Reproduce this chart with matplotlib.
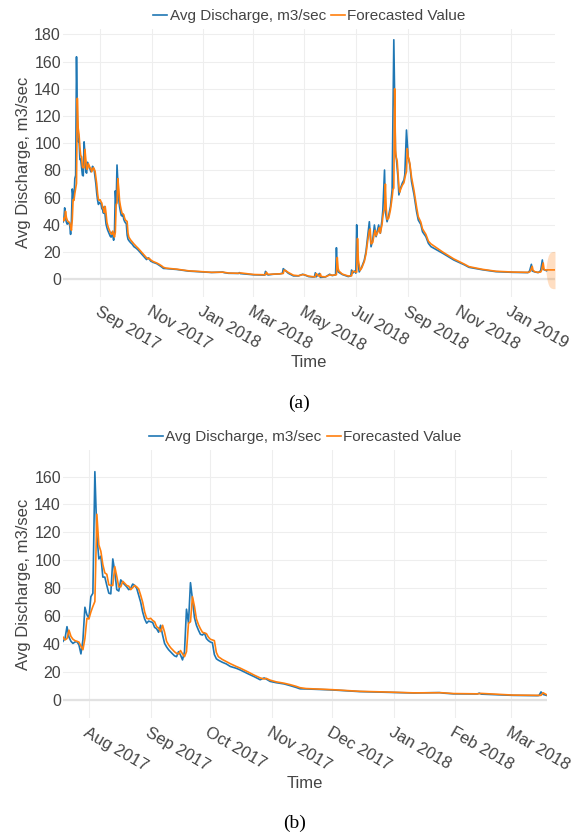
import pandas as pd
import matplotlib
matplotlib.use("Agg")
import matplotlib.pyplot as plt
import matplotlib.dates as mdates

plt.rcParams['font.family'] = ['Liberation Sans', 'DejaVu Sans']

obs_dates = [
    "2017-07-19", "2017-07-20", "2017-07-21", "2017-07-22", "2017-07-23", "2017-07-24", "2017-07-25",
    "2017-07-26", "2017-07-27", "2017-07-28", "2017-07-29", "2017-07-30", "2017-07-31", "2017-08-01",
    "2017-08-02", "2017-08-03", "2017-08-04", "2017-08-05", "2017-08-06", "2017-08-07", "2017-08-08",
    "2017-08-09", "2017-08-10", "2017-08-11", "2017-08-12", "2017-08-13", "2017-08-14", "2017-08-15",
    "2017-08-16", "2017-08-17", "2017-08-18", "2017-08-19", "2017-08-20", "2017-08-21", "2017-08-22",
    "2017-08-23", "2017-08-24", "2017-08-25", "2017-08-26", "2017-08-27", "2017-08-28", "2017-08-29",
    "2017-08-30", "2017-08-31", "2017-09-01", "2017-09-02", "2017-09-03", "2017-09-04", "2017-09-05",
    "2017-09-06", "2017-09-07", "2017-09-08", "2017-09-09", "2017-09-10", "2017-09-11", "2017-09-12",
    "2017-09-13", "2017-09-14", "2017-09-15", "2017-09-16", "2017-09-17", "2017-09-18", "2017-09-19",
    "2017-09-20", "2017-09-21", "2017-09-22", "2017-09-23", "2017-09-24", "2017-09-25", "2017-09-26",
    "2017-09-27", "2017-09-28", "2017-09-29", "2017-09-30", "2017-10-01", "2017-10-02", "2017-10-03",
    "2017-10-04", "2017-10-05", "2017-10-07", "2017-10-09", "2017-10-11", "2017-10-14", "2017-10-16",
    "2017-10-20", "2017-10-23", "2017-10-26", "2017-10-28", "2017-10-29", "2017-10-31", "2017-11-03",
    "2017-11-07", "2017-11-10", "2017-11-13", "2017-11-15", "2017-11-18", "2017-12-01", "2017-12-15",
    "2017-12-26", "2018-01-11", "2018-01-24", "2018-01-26", "2018-01-31", "2018-02-12", "2018-02-13",
    "2018-02-14", "2018-03-02", "2018-03-14", "2018-03-15", "2018-03-16", "2018-03-17", "2018-03-19",
    "2018-03-25", "2018-04-02", "2018-04-05", "2018-04-06", "2018-04-09", "2018-04-12", "2018-04-18",
    "2018-04-24", "2018-04-29", "2018-05-01", "2018-05-06", "2018-05-11", "2018-05-13", "2018-05-14",
    "2018-05-15", "2018-05-19", "2018-05-20", "2018-05-26", "2018-05-31", "2018-06-03", "2018-06-06",
    "2018-06-07", "2018-06-08", "2018-06-09", "2018-06-10", "2018-06-15", "2018-06-22", "2018-06-25",
    "2018-06-26", "2018-06-27", "2018-06-30", "2018-07-01", "2018-07-02", "2018-07-03", "2018-07-05",
    "2018-07-08", "2018-07-11", "2018-07-13", "2018-07-15", "2018-07-17", "2018-07-19", "2018-07-21",
    "2018-07-23", "2018-07-25", "2018-07-28", "2018-07-30", "2018-08-01", "2018-08-02", "2018-08-04",
    "2018-08-05", "2018-08-07", "2018-08-09", "2018-08-11", "2018-08-13", "2018-08-15", "2018-08-17",
    "2018-08-18", "2018-08-20", "2018-08-21", "2018-08-23", "2018-08-25", "2018-08-27", "2018-08-28",
    "2018-08-30", "2018-09-01", "2018-09-03", "2018-09-05", "2018-09-08", "2018-09-11", "2018-09-13",
    "2018-09-16", "2018-09-18", "2018-09-22", "2018-09-25", "2018-09-28", "2018-10-12", "2018-10-25",
    "2018-11-07", "2018-11-12", "2018-11-28", "2018-12-14", "2019-01-03", "2019-01-21", "2019-01-23",
    "2019-01-25", "2019-01-26", "2019-01-29", "2019-02-02", "2019-02-05", "2019-02-07", "2019-02-08",
    "2019-02-12",
]
obs_values = [
    42, 44, 52.5, 45, 42, 40.5, 41.5,
    41.8, 39.5, 33, 43, 66.4, 61, 58.5,
    74, 76.4, 163.5, 118, 101, 103, 88,
    88, 82, 76.5, 76, 101, 92, 79,
    78, 86, 84, 82.5, 81, 79, 80,
    83, 82, 80, 75, 70, 63, 58,
    55, 56.5, 56, 55.5, 52, 51, 48.5,
    53.5, 46.5, 40.5, 38, 36, 34.5, 33,
    31.6, 31, 34.6, 32.2, 28.7, 34.6, 65,
    55, 84, 72, 59, 53.5, 50, 47,
    46.5, 48, 44, 42.5, 41.5, 41, 32.5,
    29.5, 28.5, 27, 25.8, 24, 22.7, 21.5,
    18.7, 16.7, 14.5, 15.8, 15, 13.3, 12.4,
    11.5, 10.3, 9.0, 8.0, 7.9, 7.2, 6.0,
    5.6, 5.0, 5.3, 4.9, 4.4, 4.3, 4.9,
    4.2, 3.3, 3.1, 3.2, 5.8, 4.0, 3.2,
    3.7, 4.0, 4.4, 7.8, 6.1, 4.4, 2.5,
    2.5, 3.7, 3.2, 2.0, 1.7, 1.8, 4.8,
    1.8, 4.3, 1.4, 1.7, 3.7, 2.7, 3.2,
    3.3, 23.2, 7.5, 5.4, 3.5, 2.0, 2.5,
    6.8, 4.4, 6.2, 4.5, 40, 15.4, 5.4,
    9.1, 14, 20.3, 31.3, 42.3, 23.9, 28.8,
    39.9, 31.3, 39.9, 33.8, 43.5, 50.8, 80.3,
    49.6, 42.3, 47.2, 53.4, 65.7, 176, 91.4,
    89, 74.3, 62, 67, 70.6, 73, 76.8,
    109.7, 90.1, 84, 71.8, 62, 49.6, 43.5,
    40.3, 34.9, 31.3, 26.4, 24, 19.1, 14.2,
    10.5, 8.8, 7.0, 5.6, 5.1, 4.9, 6.3,
    11, 6.1, 5.4, 4.9, 6.3, 14.2, 7.3,
    6.3,
]

# one-step forecast
fc_dates = [
    "2017-07-19", "2017-07-20", "2017-07-21", "2017-07-22", "2017-07-23", "2017-07-24", "2017-07-25",
    "2017-07-26", "2017-07-27", "2017-07-28", "2017-07-29", "2017-07-30", "2017-07-31", "2017-08-01",
    "2017-08-02", "2017-08-03", "2017-08-04", "2017-08-05", "2017-08-06", "2017-08-07", "2017-08-08",
    "2017-08-09", "2017-08-10", "2017-08-11", "2017-08-12", "2017-08-13", "2017-08-14", "2017-08-15",
    "2017-08-16", "2017-08-17", "2017-08-18", "2017-08-19", "2017-08-20", "2017-08-21", "2017-08-22",
    "2017-08-23", "2017-08-24", "2017-08-25", "2017-08-26", "2017-08-27", "2017-08-28", "2017-08-29",
    "2017-08-30", "2017-08-31", "2017-09-01", "2017-09-02", "2017-09-03", "2017-09-04", "2017-09-05",
    "2017-09-06", "2017-09-07", "2017-09-08", "2017-09-09", "2017-09-10", "2017-09-11", "2017-09-12",
    "2017-09-13", "2017-09-14", "2017-09-15", "2017-09-16", "2017-09-17", "2017-09-18", "2017-09-19",
    "2017-09-20", "2017-09-21", "2017-09-22", "2017-09-23", "2017-09-24", "2017-09-25", "2017-09-26",
    "2017-09-27", "2017-09-28", "2017-09-29", "2017-09-30", "2017-10-01", "2017-10-02", "2017-10-03",
    "2017-10-04", "2017-10-05", "2017-10-07", "2017-10-09", "2017-10-11", "2017-10-14", "2017-10-16",
    "2017-10-20", "2017-10-23", "2017-10-26", "2017-10-28", "2017-10-29", "2017-10-31", "2017-11-03",
    "2017-11-07", "2017-11-10", "2017-11-13", "2017-11-15", "2017-11-18", "2017-12-01", "2017-12-15",
    "2017-12-26", "2018-01-11", "2018-01-25", "2018-01-31", "2018-02-12", "2018-02-14", "2018-03-02",
    "2018-03-16", "2018-03-17", "2018-03-19", "2018-03-25", "2018-04-02", "2018-04-06", "2018-04-07",
    "2018-04-09", "2018-04-12", "2018-04-18", "2018-04-24", "2018-04-29", "2018-05-01", "2018-05-06",
    "2018-05-11", "2018-05-14", "2018-05-15", "2018-05-19", "2018-05-20", "2018-05-21", "2018-05-26",
    "2018-05-31", "2018-06-03", "2018-06-07", "2018-06-08", "2018-06-09", "2018-06-10", "2018-06-11",
    "2018-06-15", "2018-06-22", "2018-06-26", "2018-06-27", "2018-06-30", "2018-07-02", "2018-07-03",
    "2018-07-04", "2018-07-06", "2018-07-08", "2018-07-11", "2018-07-13", "2018-07-15", "2018-07-17",
    "2018-07-18", "2018-07-19", "2018-07-21", "2018-07-23", "2018-07-24", "2018-07-25", "2018-07-28",
    "2018-07-29", "2018-07-30", "2018-08-01", "2018-08-02", "2018-08-03", "2018-08-04", "2018-08-05",
    "2018-08-06", "2018-08-07", "2018-08-09", "2018-08-11", "2018-08-13", "2018-08-14", "2018-08-15",
    "2018-08-16", "2018-08-17", "2018-08-18", "2018-08-19", "2018-08-20", "2018-08-21", "2018-08-22",
    "2018-08-23", "2018-08-25", "2018-08-27", "2018-08-28", "2018-08-29", "2018-08-30", "2018-08-31",
    "2018-09-01", "2018-09-02", "2018-09-03", "2018-09-05", "2018-09-08", "2018-09-11", "2018-09-13",
    "2018-09-16", "2018-09-18", "2018-09-22", "2018-09-25", "2018-09-28", "2018-10-12", "2018-10-25",
    "2018-11-07", "2018-11-12", "2018-11-28", "2018-12-14", "2019-01-03", "2019-01-21", "2019-01-23",
    "2019-01-24", "2019-01-26", "2019-01-27", "2019-01-29", "2019-02-02", "2019-02-05", "2019-02-06",
    "2019-02-08", "2019-02-09", "2019-02-10", "2019-02-12", "2019-02-13", "2019-02-22",
]
fc_values = [
    45, 43, 44, 50, 45.5, 43.5, 42.5,
    42, 41.5, 38.5, 36, 44, 58.5, 58,
    63, 67, 70.5, 133, 111, 106.5, 97,
    91, 90, 82.5, 82, 82, 95.5, 88.5,
    81, 81, 85, 83.5, 82, 81.5, 79,
    80.5, 82, 81, 79.5, 75, 70, 63,
    58.5, 58, 58.5, 57, 56, 52.5, 51.5,
    49, 53.5, 48.5, 42, 39.5, 37.5, 36,
    34.5, 33.4, 33, 35.4, 33, 31, 34.6,
    55, 56, 74, 67, 58, 54, 51,
    48.5, 48, 47.5, 45, 43.5, 43, 42.5,
    34, 31, 29, 27.5, 26, 24, 22.8,
    20, 17.8, 15.8, 15, 15.5, 14.2, 13,
    12, 11, 9.8, 8.8, 8.2, 7.4, 6.2,
    5.8, 5.1, 5.2, 4.6, 4.4, 4.7, 3.5,
    3.3, 5.2, 3.6, 3.8, 4.0, 4.3, 6.8,
    6.3, 5.0, 3.0, 2.6, 3.4, 3.4, 2.3,
    1.9, 1.9, 4.2, 2.0, 3.9, 2.0, 1.8,
    3.2, 3.0, 3.2, 3.4, 16, 8, 6,
    3.8, 2.4, 2.6, 6, 5.5, 5.2, 30,
    14, 6.5, 8.3, 13, 18.5, 28, 36,
    37, 26, 27, 34, 36, 32, 36,
    38, 34, 40, 46, 50, 51, 70,
    52, 44, 45, 51, 60, 66, 67,
    140, 95, 89, 87, 78, 68, 64,
    66, 69, 71, 74, 77, 79, 96,
    90, 88, 85, 75, 65, 53, 46,
    42, 37, 33, 28, 26, 20, 15,
    11, 9.3, 7.3, 5.9, 5.3, 5.1, 5.4,
    6.3, 9.5, 6.6, 5.6, 5.1, 5.3, 6.4,
    12, 7.5, 6.8, 6.8, 6.9, 6.9,
]

# forecast interval beyond the last observation
ci_dates = ["2019-02-11", "2019-02-12", "2019-02-13", "2019-02-14", "2019-02-15", "2019-02-16",
            "2019-02-17", "2019-02-18", "2019-02-19", "2019-02-20", "2019-02-21", "2019-02-22"]
ci_upper = [6.9, 11.5, 15.0, 17.2, 18.6, 19.4, 19.9, 20.2, 20.4, 20.5, 20.5, 20.5]
ci_lower = [6.7, 2.0, -1.5, -3.6, -5.0, -5.8, -6.3, -6.6, -6.8, -6.9, -6.9, -6.9]

BLUE = '#1f77b4'
ORANGE = '#ff7f0e'
TXT = '#444444'

obs = pd.Series(obs_values, index=pd.to_datetime(obs_dates))
fc = pd.Series(fc_values, index=pd.to_datetime(fc_dates))
ci_idx = pd.to_datetime(ci_dates)

W, H = 579, 834
fig = plt.figure(figsize=(W / 100, H / 100), dpi=100)


def px_axes(left, top, right, bottom):
    return fig.add_axes([left / W, 1 - bottom / H, (right - left) / W, (bottom - top) / H])


def style(ax, ylim, yticks):
    ax.set_ylim(*ylim)
    ax.set_yticks(yticks)
    for s in ax.spines.values():
        s.set_visible(False)
    ax.grid(True, color='#eeeeee', lw=0.8)
    ax.set_axisbelow(True)
    ax.axhline(0, color='#e2e2e2', lw=1.6, zorder=1)
    ax.tick_params(axis='both', length=0, labelcolor=TXT)
    ax.tick_params(axis='y', pad=1.5, labelsize=11.5)
    ax.tick_params(axis='x', pad=5, labelsize=12)
    for lbl in ax.get_xticklabels():
        lbl.set_rotation(-30)
        lbl.set_ha('left')
        lbl.set_va('top')
        lbl.set_rotation_mode('anchor')


# (a) full period with forecast horizon
ax1 = px_axes(63, 28.5, 555, 296.7)
ax1.fill_between(ci_idx, ci_lower, ci_upper, color=ORANGE, alpha=0.25, lw=0, zorder=2)
ax1.plot(obs.index, obs.values, color=BLUE, lw=1.2, label='Avg Discharge, m3/sec', zorder=3)
ax1.plot(fc.index, fc.values, color=ORANGE, lw=1.2, label='Forecasted Value', zorder=4)
ax1.set_xlim(pd.Timestamp('2017-07-19'), pd.Timestamp('2019-02-22'))
ax1.xaxis.set_major_locator(mdates.MonthLocator(bymonth=[1, 3, 5, 7, 9, 11]))
ax1.xaxis.set_major_formatter(mdates.DateFormatter('%b %Y'))
style(ax1, (-12.8, 184.3), range(0, 181, 20))

# (b) zoom on the first months
end_b = pd.Timestamp('2018-03-19')
ax2 = px_axes(63, 450, 547, 718)
ax2.plot(obs[:end_b].index, obs[:end_b].values, color=BLUE, lw=1.2,
         label='Avg Discharge, m3/sec', zorder=3)
ax2.plot(fc[:end_b].index, fc[:end_b].values, color=ORANGE, lw=1.2,
         label='Forecasted Value', zorder=4)
ax2.set_xlim(pd.Timestamp('2017-07-19'), end_b)
ax2.xaxis.set_major_locator(mdates.MonthLocator())
ax2.xaxis.set_major_formatter(mdates.DateFormatter('%b %Y'))
style(ax2, (-12.9, 179), range(0, 161, 20))

for ax, ly, cx, ylab_x, time_y, cap_y, cap in [
    (ax1, 16, 309.5, 24, 362.7, 403, '(a)'),
    (ax2, 437.3, 305.4, 23.5, 783.3, 823, '(b)'),
]:
    leg = ax.legend(loc='center', bbox_to_anchor=(cx / W, 1 - ly / H),
                    bbox_transform=fig.transFigure, ncol=2, frameon=False,
                    fontsize=11, handlelength=0.9, handletextpad=0.15,
                    columnspacing=0.35, borderpad=0)
    for t in leg.get_texts():
        t.set_color(TXT)
    pos = ax.get_position()
    mid_x = (pos.x0 + pos.x1) / 2
    mid_y = (pos.y0 + pos.y1) / 2
    fig.text(ylab_x / W, mid_y, 'Avg Discharge, m3/sec', rotation=90,
             ha='center', va='center', fontsize=12, color=TXT)
    fig.text(mid_x, 1 - time_y / H, 'Time', ha='center', va='center',
             fontsize=12, color=TXT)
    fig.text(mid_x - 10 / W, 1 - cap_y / H, cap, ha='center', va='center',
             fontsize=14, family='Liberation Serif', color='black')

fig.savefig('out.png', dpi=100)
